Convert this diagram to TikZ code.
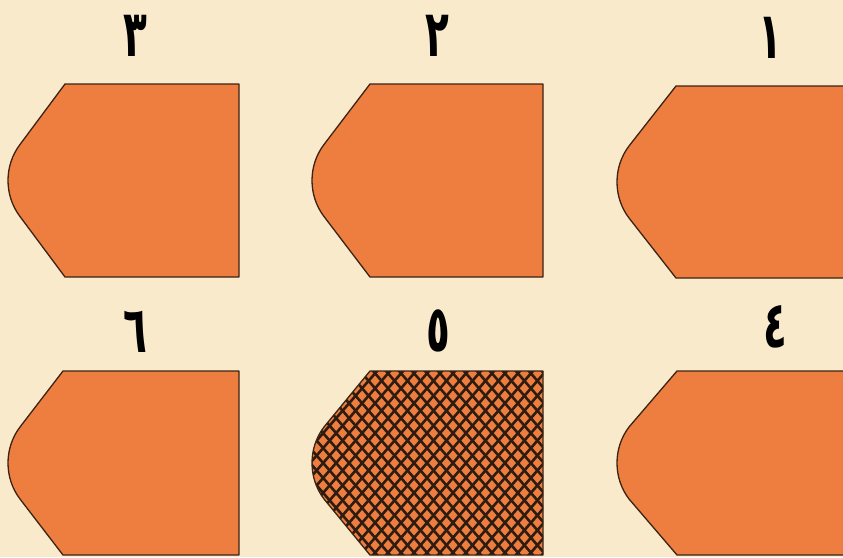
\documentclass[tikz,border=0pt]{standalone}
\usepackage{fontspec}
\newfontfamily\arabicfont[Script=Arabic]{DejaVu Sans}
\definecolor{bgcream}{HTML}{F8EACB}
\definecolor{bladeorange}{HTML}{EE7E3F}
\definecolor{inkline}{HTML}{3B2315}
\definecolor{hatchink}{HTML}{2E1C10}
% #1 path options, #2 tip x, #3 corner x, #4 right x, #5 top y, #6 bottom y
\newcommand\bladedraw[6]{%
  \pgfmathsetmacro\bym{(#5+#6)/2}%
  \pgfmathsetmacro\bya{\bym-36}%
  \pgfmathsetmacro\byb{\bym+36}%
  \pgfmathsetmacro\bxa{#2+12}%
  \pgfmathsetmacro\bxc{#2-4}%
  \pgfmathsetmacro\byc{\bya+21}%
  \pgfmathsetmacro\byd{\byb-21}%
  \path[#1] (#4,#5) -- (#3,#5) -- (\bxa,\bya) .. controls (\bxc,\byc) and (\bxc,\byd) .. (\bxa,\byb) -- (#3,#6) -- (#4,#6) -- cycle;}
\tikzset{
  blade/.style={fill=bladeorange, draw=inkline, line width=1.3pt, line join=round},
  outline/.style={draw=inkline, line width=1.3pt, line join=round},
  numlabel/.style={font=\arabicfont\bfseries\fontsize{52}{56}\selectfont, inner sep=0pt, text=black, xscale=0.75, yscale=1.25},
  hatchline/.style={draw=hatchink, line width=2.6pt}
}
\begin{document}
\begin{tikzpicture}[x=1pt,y=-1pt]
\clip (0,0) rectangle (843,557);
\fill[bgcream] (0,0) rectangle (843,557);
% top row
\bladedraw{blade}{8}{65}{239}{84}{277}
\bladedraw{blade}{312}{370}{543}{84}{277}
\bladedraw{blade}{617}{676}{880}{86}{278}
% bottom row
\bladedraw{blade}{8}{63}{239}{371}{555}
\bladedraw{blade}{617}{677}{880}{371}{555}
% hatched blade 5
\begin{scope}
  \bladedraw{clip}{312}{370}{543}{371}{555}
  \fill[bladeorange] (300,360) rectangle (560,560);
  \begin{scope}[shift={(440,463)},rotate=49]
    \foreach \i in {-22,...,22} \draw[hatchline] (-300,\i*9.8) -- (300,\i*9.8);
  \end{scope}
  \begin{scope}[shift={(440,463)},rotate=-49]
    \foreach \i in {-22,...,22} \draw[hatchline] (-300,\i*9.8) -- (300,\i*9.8);
  \end{scope}
\end{scope}
\bladedraw{outline}{312}{370}{543}{371}{555}
% labels
\node[numlabel] (n3) at (135,36) {٣};
\node[numlabel] (n2) at (437,36) {٢};
\node[numlabel] (n1) at (770,38) {١};
\node[numlabel] (n6) at (135,332) {٦};
\node[numlabel] (n5) at (438,331) {٥};
\node[numlabel] (n4) at (775,327) {٤};
\end{tikzpicture}
\end{document}
